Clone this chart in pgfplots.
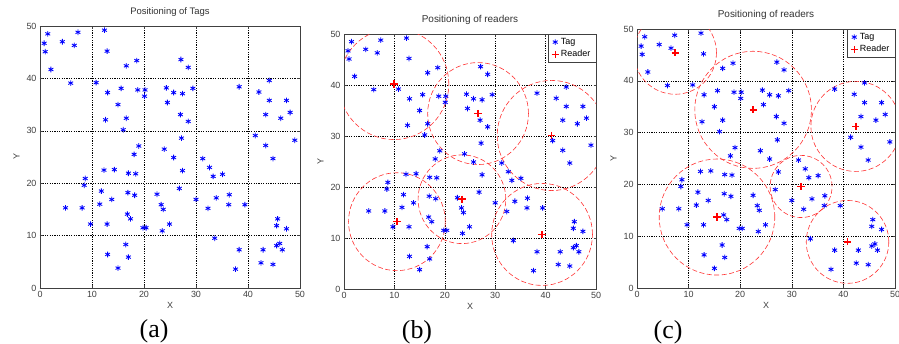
\documentclass[border=0pt]{standalone}
\usepackage{pgfplots}
\pgfplotsset{compat=1.18}
\usepackage{pgfplotstable}
\usepackage{fontspec}
\setmainfont{Liberation Sans}
\newfontfamily\seriffont{Liberation Serif}

\pgfplotstableread{
x y
0.8 46.7
1.5 48.5
1.0 45.1
2.1 41.7
4.3 47.0
7.3 48.8
6.6 46.3
5.9 39.1
12.4 49.2
12.9 45.2
10.8 39.2
13.0 37.3
16.6 42.4
18.6 43.4
15.6 38.1
15.0 35.0
12.6 32.1
16.6 32.4
16.0 30.2
18.8 37.8
20.2 37.8
20.1 36.6
24.3 38.2
24.5 35.4
25.7 37.3
27.4 37.1
27.1 43.6
28.5 42.1
29.4 38.1
27.0 33.1
28.5 31.8
27.2 28.6
38.3 38.4
42.1 37.4
44.1 39.6
44.1 35.8
43.4 33.1
47.4 35.8
48.1 33.5
46.3 32.4
41.4 29.1
43.4 27.2
49.0 28.2
44.8 24.7
19.0 27.1
18.1 25.5
23.9 26.5
25.7 24.9
27.4 22.4
26.8 19.0
12.3 22.5
14.3 22.6
17.0 21.9
18.4 21.8
8.7 20.9
8.5 19.6
11.8 18.5
16.9 18.2
18.2 17.7
13.8 16.9
11.5 16.0
4.9 15.3
8.1 15.3
16.8 14.1
17.4 13.2
9.7 12.2
12.9 12.2
19.8 11.5
20.4 11.5
22.5 17.9
23.3 15.9
23.7 15.0
24.9 12.2
23.5 10.9
16.5 8.3
13.0 6.4
17.0 5.9
15.0 3.8
30.0 16.9
31.3 24.7
32.6 23.0
33.3 21.3
35.1 21.7
33.9 17.2
32.3 15.2
36.4 17.8
36.3 15.9
39.4 15.9
33.6 9.5
38.3 7.3
37.6 3.6
42.9 7.3
42.5 4.8
44.8 4.5
45.7 13.2
45.5 11.9
47.4 11.3
45.5 8.1
46.1 8.5
46.6 7.3
}\tags

\pgfplotstableread{
x y
9.9 40.2
10.5 13.2
26.6 34.4
23.4 17.6
41.2 30.1
39.3 10.7
}\readersb

\pgfplotstableread{
x y
7.4 45.4
22.5 34.4
42.4 31.2
31.8 19.6
15.5 13.7
40.8 8.9
}\readersc

\tikzset{readerrange/.style={red!80, line width=0.6bp, dash pattern=on 5bp off 2.5bp}}

\pgfplotsset{
  panel/.style={
    scale only axis, anchor=south west,
    xmin=0, xmax=50, ymin=0, ymax=50,
    xtick={0,10,...,50}, ytick={0,10,...,50},
    grid=major,
    major grid style={black, dash pattern=on 1.2bp off 1.2bp, line width=0.45bp},
    axis line style={black!75, line width=0.6bp},
    tick align=inside, major tick length=2.5bp, tick style={black!75, line width=0.5bp},
    ticklabel style={font=\fontsize{9}{10}\selectfont, text=black!75},
    /pgf/number format/assume math mode=true,
    xlabel={X}, ylabel={Y},
    xlabel style={yshift=2bp},
    label style={font=\fontsize{9}{10}\selectfont, text=black!75},
    title style={font=\fontsize{10}{11}\selectfont, text=black!80},
    legend style={at={(1,1)}, anchor=north east, draw=black!75, line width=0.5bp,
      font=\fontsize{9}{10}\selectfont, inner xsep=3.5bp, inner ysep=2bp, row sep=0.5bp},
    legend cell align=left,
  },
  tagplot/.style={only marks, mark=asterisk, color=blue, mark size=2.8bp,
    mark options={line width=0.85bp}},
  readerplot/.style={only marks, mark=+, color=red, mark size=3.6bp,
    mark options={line width=1.5bp}},
}

\begin{document}
\begin{tikzpicture}
\useasboundingbox (0,0) rectangle (899bp,344bp);

% (a)
\begin{axis}[panel, at={(40bp,56bp)}, width=260bp, height=262bp,
  title={Positioning of Tags}, title style={font=\fontsize{9.5}{11}\selectfont}]
\addplot[tagplot] table[x=x,y=y] {\tags};
\end{axis}
\node[font=\seriffont\fontsize{26}{28}\selectfont] at (154bp,13bp) {(a)};

% (b)
\begin{axis}[panel, at={(344bp,55bp)}, width=252bp, height=255bp,
  title={Positioning of readers}]
\addplot[tagplot] table[x=x,y=y] {\tags};
\addlegendentry{Tag}
\addplot[readerplot] table[x=x,y=y] {\readersb};
\addlegendentry{Reader}
\draw[readerrange] (axis cs:9.9,40.2) circle[radius=10.9];
\draw[readerrange] (axis cs:10.5,13.2) circle[radius=9.6];
\draw[readerrange] (axis cs:26.6,34.4) circle[radius=10];
\draw[readerrange] (axis cs:23.4,17.6) circle[radius=8.7];
\draw[readerrange] (axis cs:41.2,30.1) circle[radius=10.8];
\draw[readerrange] (axis cs:39.3,10.7) circle[radius=10];
\end{axis}
\node[font=\seriffont\fontsize{26}{28}\selectfont] at (417bp,12bp) {(b)};

% (c)
\begin{axis}[panel, at={(637bp,56bp)}, width=258bp, height=259bp,
  title={Positioning of readers}]
\addplot[tagplot] table[x=x,y=y] {\tags};
\addlegendentry{Tag}
\addplot[readerplot] table[x=x,y=y] {\readersc};
\addlegendentry{Reader}
\draw[readerrange] (axis cs:7.4,45.4) circle[radius=8];
\draw[readerrange] (axis cs:22.5,34.4) circle[radius=11.3];
\draw[readerrange] (axis cs:42.4,31.2) circle[radius=8.7];
\draw[readerrange] (axis cs:31.8,19.6) circle[radius=6];
\draw[readerrange] (axis cs:15.5,13.7) circle[radius=11.2];
\draw[readerrange] (axis cs:40.8,8.9) circle[radius=8];
\end{axis}
\node[font=\seriffont\fontsize{26}{28}\selectfont] at (668bp,12bp) {(c)};
\end{tikzpicture}
\end{document}
